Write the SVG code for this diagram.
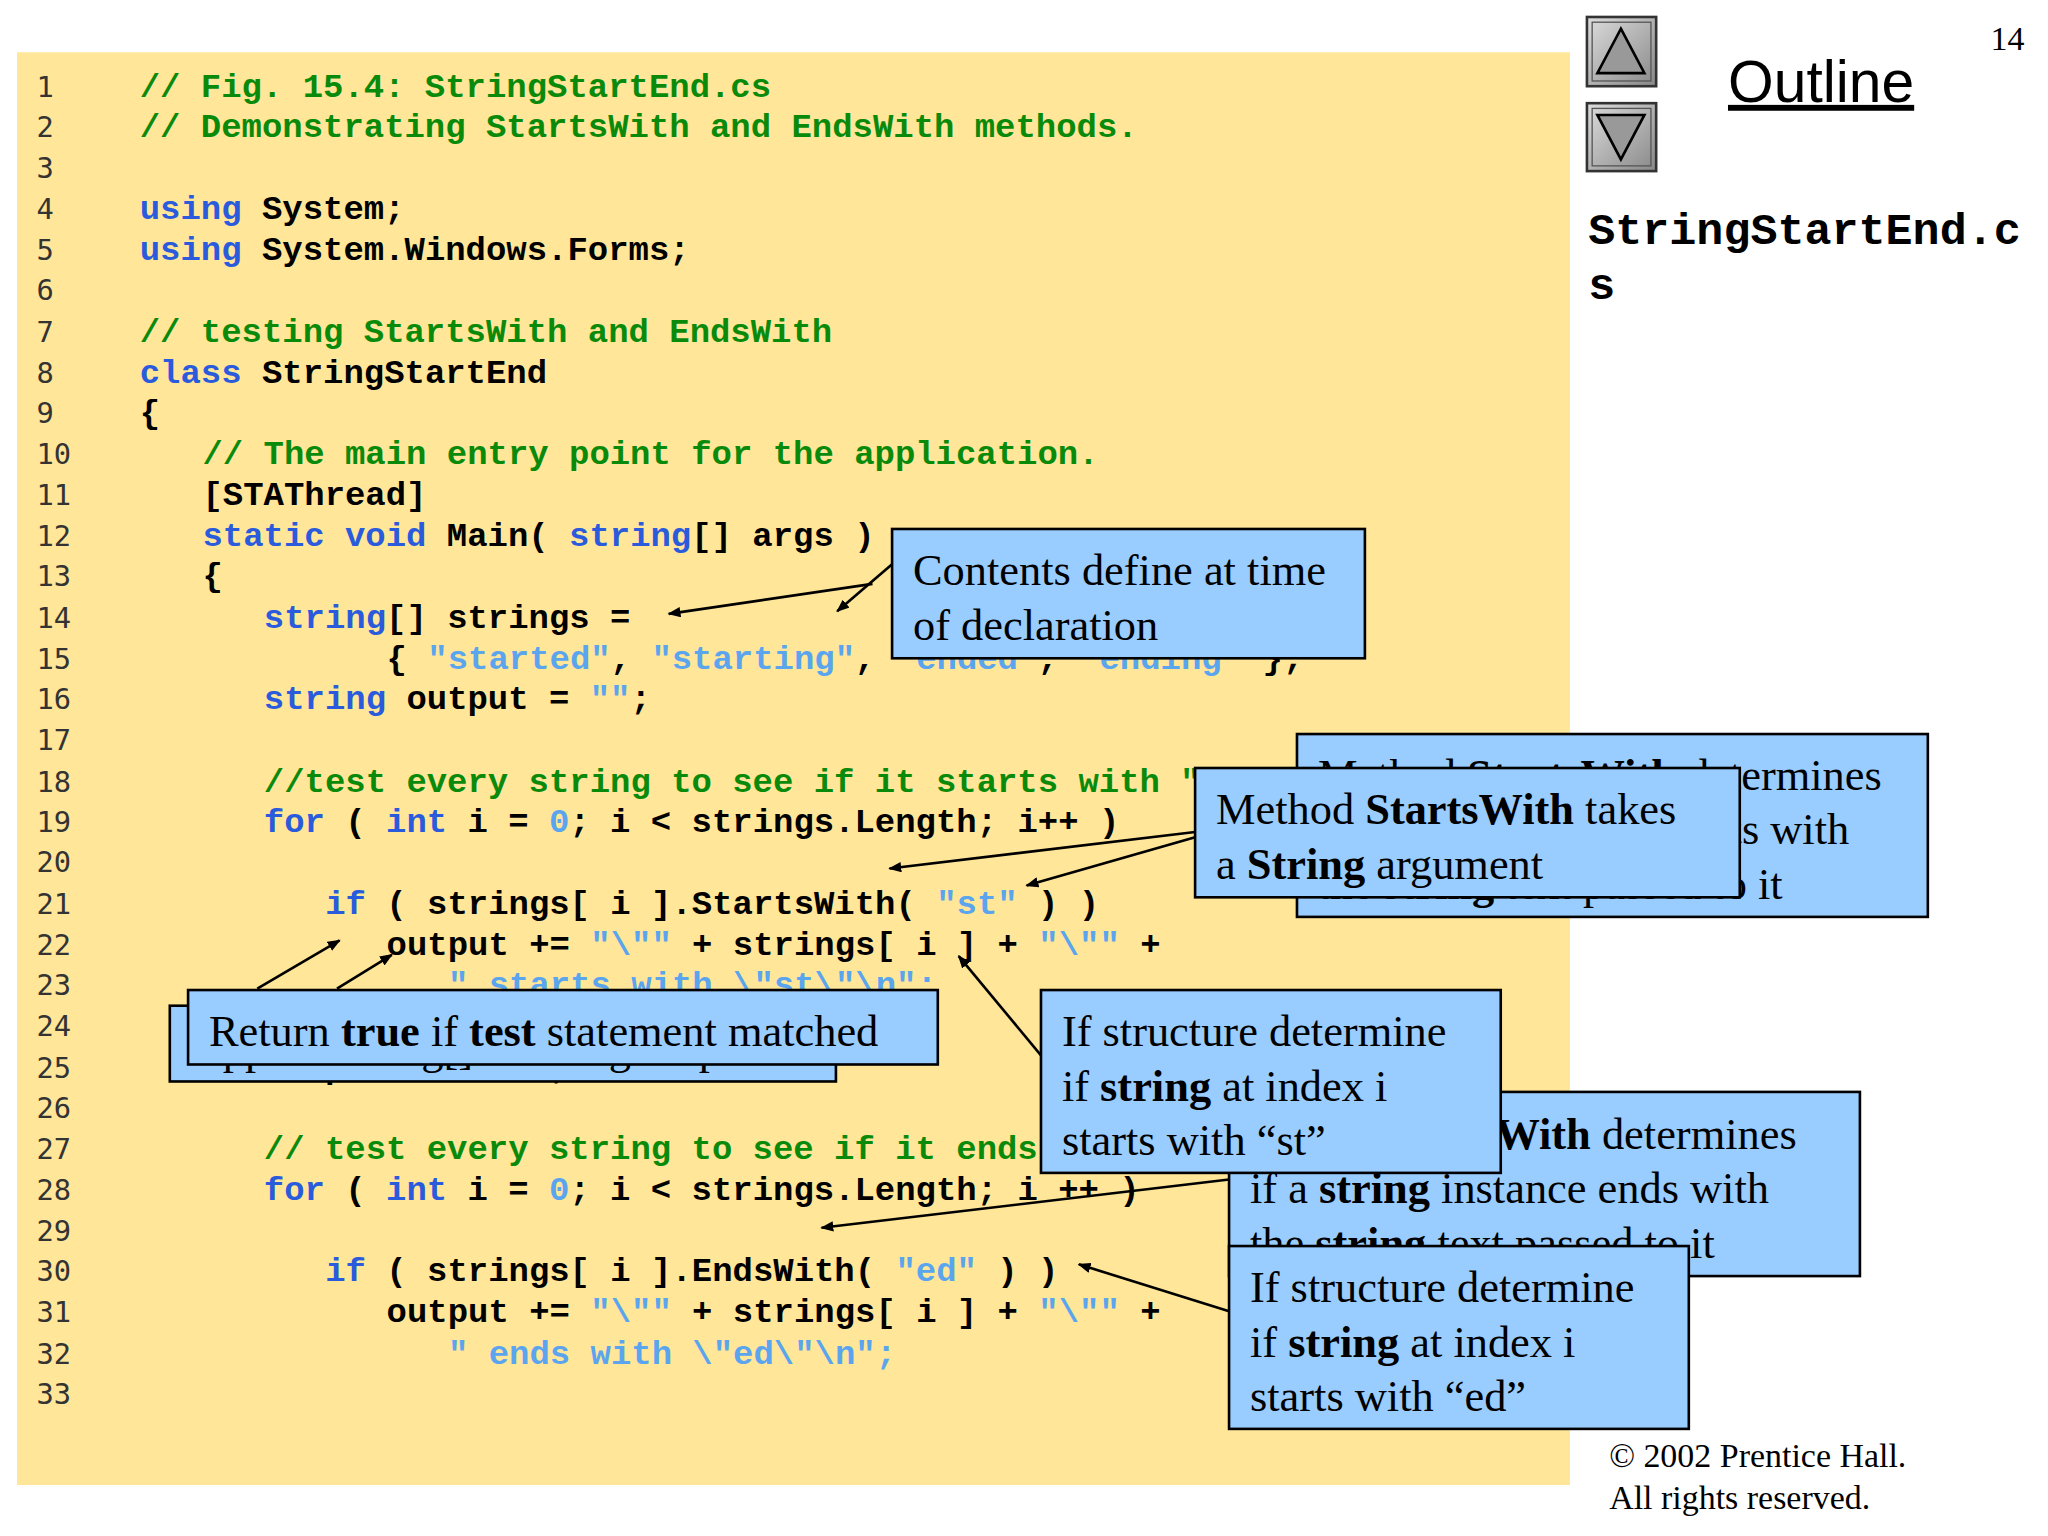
<svg xmlns="http://www.w3.org/2000/svg" width="2048" height="1536" viewBox="0 0 2048 1536">
<style>
.ln{font-family:"DejaVu Sans Mono",monospace;font-size:22px;fill:#333}
.c{font-family:"Liberation Mono",monospace;font-weight:bold;font-size:26px;fill:#000;white-space:pre}
.k{fill:#2a5bdc}.g{fill:#0a8a0a}.s{fill:#5aa5ee}
.box{fill:#99ccff;stroke:#000;stroke-width:2}
.t{font-family:"Liberation Serif",serif;font-size:34px;fill:#000}
.b{font-weight:bold}
.conn line{stroke:#000;stroke-width:2;marker-end:url(#ah)}
</style>
<defs>
<marker id="ah" markerWidth="10" markerHeight="8" refX="9" refY="4" orient="auto" markerUnits="userSpaceOnUse"><path d="M0,0 L10,4 L0,8 z" fill="#000"/></marker>
<linearGradient id="btn" x1="0" y1="0" x2="1" y2="1"><stop offset="0" stop-color="#ddd"/><stop offset="1" stop-color="#888"/></linearGradient>
</defs>
<rect width="2048" height="1536" fill="#fff"/>
<g transform="scale(1.30612)">
<rect x="13" y="40" width="1189" height="1097" fill="#ffe699"/>
<g id="linenumbers">
<text class="ln" x="28" y="74">1</text><text class="ln" x="28" y="105">2</text><text class="ln" x="28" y="136">3</text><text class="ln" x="28" y="168">4</text><text class="ln" x="28" y="199">5</text><text class="ln" x="28" y="230">6</text><text class="ln" x="28" y="262">7</text><text class="ln" x="28" y="293">8</text><text class="ln" x="28" y="324">9</text><text class="ln" x="28" y="355">10</text><text class="ln" x="28" y="387">11</text><text class="ln" x="28" y="418">12</text><text class="ln" x="28" y="449">13</text><text class="ln" x="28" y="481">14</text><text class="ln" x="28" y="512">15</text><text class="ln" x="28" y="543">16</text><text class="ln" x="28" y="574">17</text><text class="ln" x="28" y="606">18</text><text class="ln" x="28" y="637">19</text><text class="ln" x="28" y="668">20</text><text class="ln" x="28" y="700">21</text><text class="ln" x="28" y="731">22</text><text class="ln" x="28" y="762">23</text><text class="ln" x="28" y="793">24</text><text class="ln" x="28" y="825">25</text><text class="ln" x="28" y="856">26</text><text class="ln" x="28" y="887">27</text><text class="ln" x="28" y="919">28</text><text class="ln" x="28" y="950">29</text><text class="ln" x="28" y="981">30</text><text class="ln" x="28" y="1012">31</text><text class="ln" x="28" y="1044">32</text><text class="ln" x="28" y="1075">33</text>
</g>
<g id="code" xml:space="preserve">
<text class="c g" x="107" y="74">// Fig. 15.4: StringStartEnd.cs</text>
<text class="c g" x="107" y="105">// Demonstrating StartsWith and EndsWith methods.</text>
<text class="c" x="107" y="168"><tspan class="k">using</tspan> System;</text>
<text class="c" x="107" y="199"><tspan class="k">using</tspan> System.Windows.Forms;</text>
<text class="c g" x="107" y="262">// testing StartsWith and EndsWith</text>
<text class="c" x="107" y="293"><tspan class="k">class</tspan> StringStartEnd</text>
<text class="c" x="107" y="324">{</text>
<text class="c g" x="155" y="355">// The main entry point for the application.</text>
<text class="c" x="155" y="387">[STAThread]</text>
<text class="c" x="155" y="418"><tspan class="k">static void</tspan> Main( <tspan class="k">string</tspan>[] args )</text>
<text class="c" x="155" y="449">{</text>
<text class="c" x="202" y="481"><tspan class="k">string</tspan>[] strings =</text>
<text class="c" x="296" y="512">{ <tspan class="s">"started"</tspan>, <tspan class="s">"starting"</tspan>, <tspan class="s">"ended"</tspan>, <tspan class="s">"ending"</tspan> };</text>
<text class="c" x="202" y="543"><tspan class="k">string</tspan> output = <tspan class="s">""</tspan>;</text>
<text class="c g" x="202" y="606">//test every string to see if it starts with "st"</text>
<text class="c" x="202" y="637"><tspan class="k">for</tspan> ( <tspan class="k">int</tspan> i = <tspan class="s">0</tspan>; i &lt; strings.Length; i++ )</text>
<text class="c" x="249" y="700"><tspan class="k">if</tspan> ( strings[ i ].StartsWith( <tspan class="s">"st"</tspan> ) )</text>
<text class="c" x="296" y="731">output += <tspan class="s">"\""</tspan> + strings[ i ] + <tspan class="s">"\""</tspan> +</text>
<text class="c s" x="343" y="762">" starts with \"st\"\n";</text>
<text class="c" x="202" y="825">output += <tspan class="s">"\n"</tspan>;</text>
<text class="c g" x="202" y="887">// test every string to see if it ends with "ed"</text>
<text class="c" x="202" y="919"><tspan class="k">for</tspan> ( <tspan class="k">int</tspan> i = <tspan class="s">0</tspan>; i &lt; strings.Length; i ++ )</text>
<text class="c" x="249" y="981"><tspan class="k">if</tspan> ( strings[ i ].EndsWith( <tspan class="s">"ed"</tspan> ) )</text>
<text class="c" x="296" y="1012">output += <tspan class="s">"\""</tspan> + strings[ i ] + <tspan class="s">"\""</tspan> +</text>
<text class="c s" x="343" y="1044">" ends with \"ed\"\n";</text>
</g>
<g class="conn" id="connectors">
<line x1="668" y1="447" x2="512" y2="470"/>
<line x1="683" y1="432" x2="641" y2="468"/>
<line x1="915" y1="637" x2="681" y2="665"/>
<line x1="915" y1="641" x2="786" y2="678"/>
<line x1="197" y1="757" x2="260" y2="720"/>
<line x1="258" y1="757" x2="300" y2="731"/>
<line x1="797" y1="808" x2="734" y2="732"/>
<line x1="941" y1="903" x2="629" y2="940"/>
<line x1="941" y1="1004" x2="826" y2="968"/>
</g>
<g id="n-contents"><rect class="box" x="683" y="405" width="362" height="99"/><text class="t" x="699" y="448">Contents define at time</text><text class="t" x="699" y="490">of declaration</text></g>
<g id="n-startswith-desc"><rect class="box" x="993" y="562" width="483" height="140"/><text class="t" x="1009" y="605">Method <tspan class="b">StartsWith</tspan> determines</text><text class="t" x="1009" y="646">if a <tspan class="b">string</tspan> instance starts with</text><text class="t" x="1009" y="688">the <tspan class="b">string</tspan> text passed to it</text></g>
<g id="n-startswith-arg"><rect class="box" x="915" y="588" width="417" height="99"/><text class="t" x="931" y="631">Method <tspan class="b">StartsWith</tspan> takes</text><text class="t" x="931" y="673">a <tspan class="b">String</tspan> argument</text></g>
<g id="n-append"><rect class="box" x="130" y="770" width="510" height="58"/><text class="t" x="146" y="815">Append string[] to string output</text></g>
<g id="n-return"><rect class="box" x="144" y="758" width="574" height="57"/><text class="t" x="160" y="801">Return <tspan class="b">true</tspan> if <tspan class="b">test</tspan> statement matched</text></g>
<g id="n-endswith-desc"><rect class="box" x="941" y="836" width="483" height="141"/><text class="t" x="957" y="880">Method <tspan class="b">EndsWith</tspan> determines</text><text class="t" x="957" y="921">if a <tspan class="b">string</tspan> instance ends with</text><text class="t" x="957" y="963">the <tspan class="b">string</tspan> text passed to it</text></g>
<g id="n-if-st"><rect class="box" x="797" y="758" width="352" height="140"/><text class="t" x="813" y="801">If structure determine</text><text class="t" x="813" y="843">if <tspan class="b">string</tspan> at index i</text><text class="t" x="813" y="884">starts with “st”</text></g>
<g id="n-if-ed"><rect class="box" x="941" y="954" width="352" height="140"/><text class="t" x="957" y="997">If structure determine</text><text class="t" x="957" y="1039">if <tspan class="b">string</tspan> at index i</text><text class="t" x="957" y="1080">starts with “ed”</text></g>
<g id="nav">
<rect x="1215" y="13" width="53" height="53" fill="url(#btn)" stroke="#333" stroke-width="2"/>
<rect x="1219" y="17" width="45" height="45" fill="none" stroke="#555" stroke-width="1"/>
<path d="M1241,22 L1259,56 L1223,56 Z" fill="#999" stroke="#000" stroke-width="2"/>
<rect x="1215" y="79" width="53" height="52" fill="url(#btn)" stroke="#333" stroke-width="2"/>
<rect x="1219" y="83" width="45" height="44" fill="none" stroke="#555" stroke-width="1"/>
<path d="M1223,88 L1259,88 L1241,122 Z" fill="#999" stroke="#000" stroke-width="2"/>
</g>
<text x="1537" y="38" font-family="Liberation Serif,serif" font-size="26" text-anchor="middle">14</text>
<text x="1323" y="78" font-family="Liberation Sans,sans-serif" font-size="45" text-decoration="underline">Outline</text>
<text x="1216" y="187" font-family="Liberation Mono,monospace" font-weight="bold" font-size="34.5">StringStartEnd.c</text>
<text x="1216" y="229" font-family="Liberation Mono,monospace" font-weight="bold" font-size="34.5">s</text>
<text x="1232" y="1123" font-family="Liberation Serif,serif" font-size="26">© 2002 Prentice Hall.</text>
<text x="1232" y="1155" font-family="Liberation Serif,serif" font-size="26">All rights reserved.</text>
</g>
</svg>
